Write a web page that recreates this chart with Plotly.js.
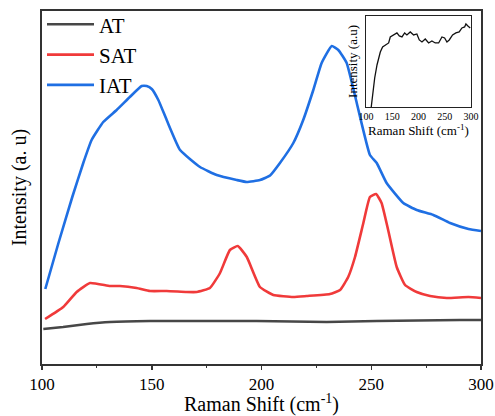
<!DOCTYPE html>
<html>
<head>
<meta charset="utf-8">
<script src="https://cdn.plot.ly/plotly-3.0.1.min.js"></script>
<style>html,body{margin:0;padding:0;background:#fff;}#chart{width:495px;height:416px;}</style>
</head>
<body>
<div id="chart"></div>
<script>
// Main spectra (Raman shift in cm^-1, intensity in arbitrary units)
var atX  = [100.6,109.6,120.4,131,149.2,172,197.8,229.7,252.5,290.4,300];
var atY  = [35,37,40,42,43,43,43,42,43,44,44];

var satX = [101.4,109.7,115.8,121.9,131,135.5,143.1,149.2,156.8,165.9,170.5,176.5,181.1,185.6,189.2,193.3,199.3,205.4,214.5,220.6,231.2,235.8,239.5,242.6,246.4,249.4,252.2,254.7,257.7,261.6,265.4,270.7,276.8,284.4,294.3,300];
var satY = [45,57,72,81,78,78,76,73,73,72,72,76,91,114,118,107,77,69,67,68,70,74,87,107,141,167,170,161,134,97,79,72,68,66,67,66];

var iatX = [101.5,107.5,113.8,118.8,122.6,127.9,134,140,145.4,147.7,150,153,156.8,162.9,172,179.6,188.7,193.3,199.3,203.9,208.4,214.5,219,223.6,227.4,232,235,238.8,243.4,249.4,252.5,257,264.6,270.7,278.3,285.9,294.3,300];
var iatY = [75,121,167,201,224,242,254,267,278,278,275,264,244,214,197,189,184,182,184,188.5,201,221,244,274,301,318,314,301,261,209,201,181,161,154,149,141,135,133];

// Inset spectrum
var insX = [110,112.7,116.6,121,127.3,131.7,138,143.2,146.3,152.7,159,163.5,168.6,173.7,178,184.4,190.8,197,201.6,206.7,213,219.4,225.7,232,238.5,244.8,249.9,254.3,258.7,265.1,271.4,277.7,282.9,288,290.5,294.3,298.7];
var insY = [0,12,29,42,55,60,62,64,70,72,74,71,70,74,72,75,72,73,67,65,68,64,66,64,64,70,69,65,67,72,74,75,79,80,83,81,79];

var seriesNames = ['AT','SAT','IAT'];
var xTicks = [100,150,200,250,300];

var serif = 'Liberation Serif, Times New Roman, serif';

var traces = [
  {x: atX, y: atY, name: seriesNames[0], type: 'scatter', mode: 'lines',
   line: {color: '#474747', width: 2.6, shape: 'spline', smoothing: 0.4}},
  {x: satX, y: satY, name: seriesNames[1], type: 'scatter', mode: 'lines',
   line: {color: '#f03a3a', width: 2.6, shape: 'spline', smoothing: 0.4}},
  {x: iatX, y: iatY, name: seriesNames[2], type: 'scatter', mode: 'lines',
   line: {color: '#1f6fe3', width: 2.6, shape: 'spline', smoothing: 0.4}},
  {x: insX, y: insY, xaxis: 'x2', yaxis: 'y2', type: 'scatter', mode: 'lines',
   showlegend: false, line: {color: '#111', width: 1.3}}
];

var layout = {
  width: 495, height: 416,
  margin: {l: 42, r: 14, t: 11, b: 52, autoexpand: false},
  paper_bgcolor: '#fff', plot_bgcolor: '#fff',
  font: {family: serif, color: '#000'},
  showlegend: true,
  legend: {x: 0.0, xref: 'paper', y: 0.99, yref: 'container', xanchor: 'left', yanchor: 'top',
           bgcolor: 'rgba(0,0,0,0)', font: {family: serif, size: 21, color: '#000'},
           itemwidth: 47, tracegroupgap: 0},
  xaxis: {range: [100, 300], tickvals: xTicks, ticktext: xTicks.map(String),
          ticks: 'outside', ticklen: 4, tickwidth: 1.5, tickcolor: '#333',
          minor: {dtick: 25, ticks: 'outside', ticklen: 2, tickwidth: 1.2, tickcolor: '#333'},
          showline: true, linecolor: '#333', linewidth: 2, mirror: true,
          showgrid: false, zeroline: false,
          tickfont: {family: serif, size: 17, color: '#000'},
          title: {text: 'Raman Shift (cm<sup>-1</sup>)', font: {family: serif, size: 20, color: '#000'}, standoff: 6}},
  yaxis: {range: [0, 353], showticklabels: false, ticks: '',
          showline: true, linecolor: '#333', linewidth: 2, mirror: true,
          showgrid: false, zeroline: false,
          title: {text: 'Intensity (a. u)', font: {family: serif, size: 20, color: '#000'}, standoff: 8}},
  xaxis2: {domain: [0.738, 0.977], anchor: 'y2', range: [100, 300], tickvals: xTicks,
           ticks: '', showline: true, linecolor: '#222', linewidth: 1, mirror: true,
           showgrid: false, zeroline: false,
           tickfont: {family: serif, size: 10, color: '#000'},
           title: {text: 'Raman Shift (cm<sup>-1</sup>)', font: {family: serif, size: 13, color: '#000'}, standoff: 1}},
  yaxis2: {domain: [0.728, 0.986], anchor: 'x2', range: [0, 91],
           showticklabels: false, ticks: '', showline: true, linecolor: '#222', linewidth: 1, mirror: true,
           showgrid: false, zeroline: false,
           title: {text: 'Intensity (a.u)', font: {family: serif, size: 13, color: '#000'}, standoff: 4}}
};

Plotly.newPlot('chart', traces, layout, {displayModeBar: false, staticPlot: true});
</script>
</body>
</html>
